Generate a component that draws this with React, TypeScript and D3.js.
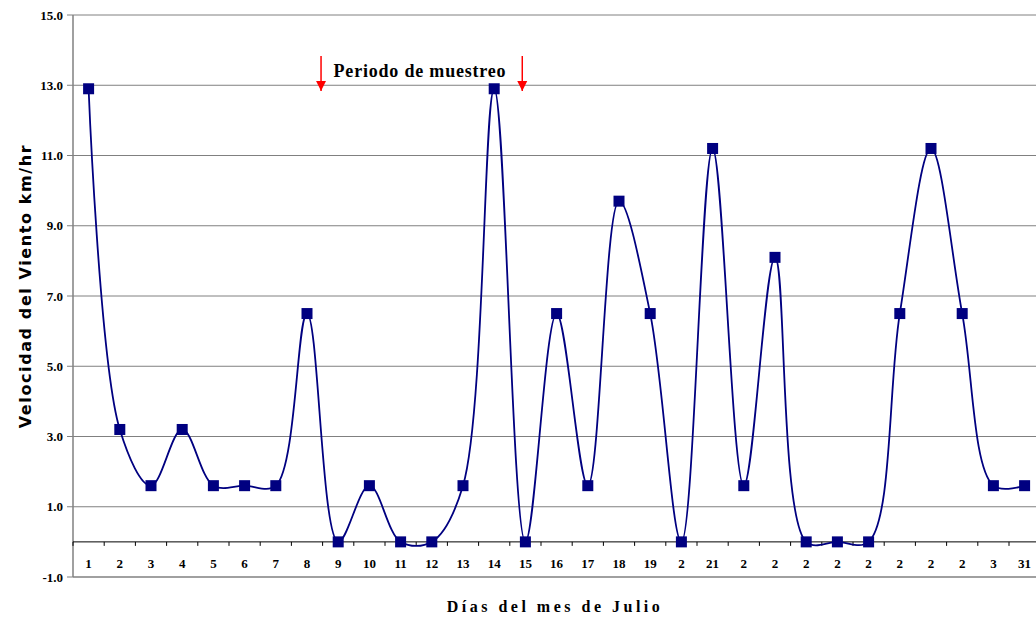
import React from "react";
import * as d3 from "d3";

// Daily wind speed, July (km/hr)
const days = Array.from({ length: 31 }, (_, i) => i + 1);
const dayLabels = [
  "1", "2", "3", "4", "5", "6", "7", "8", "9", "10",
  "11", "12", "13", "14", "15", "16", "17", "18", "19", "2",
  "21", "2", "2", "2", "2", "2", "2", "2", "2", "3", "31",
];
const windSpeed = [
  12.9, 3.2, 1.6, 3.2, 1.6, 1.6, 1.6, 6.5, 0, 1.6,
  0, 0, 1.6, 12.9, 0, 6.5, 1.6, 9.7, 6.5, 0,
  11.2, 1.6, 8.1, 0, 0, 0, 6.5, 11.2, 6.5, 1.6, 1.6,
];
const yTicks = [15, 13, 11, 9, 7, 5, 3, 1, -1];
const samplingStart = 8.45; // day position of first arrow
const samplingEnd = 14.9;

const W = 1036;
const H = 617;
const left = 73;
const top = 15;
const bottom = 577;
const bandW = 31.2;
const right = left + bandW * days.length;

export default function App() {
  const x = d3
    .scaleBand<number>()
    .domain(days)
    .range([left, right]);
  const xc = (d: number) => (x(d) as number) + x.bandwidth() / 2;
  const xLin = d3.scaleLinear().domain([1, 31]).range([xc(1), xc(31)]);
  const y = d3.scaleLinear().domain([-1, 15]).range([bottom, top]);

  const line = d3
    .line<number>()
    .x((_, i) => xc(days[i]))
    .y((v) => y(v))
    .curve(d3.curveCatmullRom.alpha(0.5));

  const serif = "'Liberation Serif', 'Times New Roman', serif";
  const navy = "#000080";
  const ms = 11;

  return (
    <svg
      width={W}
      height={H}
      style={{ position: "absolute", left: 0, top: 0, background: "#fff" }}
    >
      {/* horizontal gridlines */}
      {yTicks.map((t) => (
        <line
          key={"g" + t}
          x1={left}
          x2={right}
          y1={y(t)}
          y2={y(t)}
          stroke={t === -1 ? "#a0a0a0" : "#808080"}
          strokeWidth={t === -1 ? 2 : 1}
        />
      ))}
      {/* y axis */}
      <line x1={left} x2={left} y1={top} y2={bottom} stroke="#808080" strokeWidth={1.5} />
      {yTicks.map((t) => (
        <g key={"t" + t}>
          <line x1={left - 6} x2={left} y1={y(t)} y2={y(t)} stroke="#808080" />
          <text
            x={left - 10}
            y={y(t)}
            dy="0.35em"
            textAnchor="end"
            fontFamily={serif}
            fontWeight="bold"
            fontSize={13}
          >
            {t.toFixed(1)}
          </text>
        </g>
      ))}
      {/* category axis at zero */}
      <line x1={left} x2={right} y1={y(0)} y2={y(0)} stroke="#000" strokeWidth={1} />
      {days.map((d) => (
        <line
          key={"xt" + d}
          x1={x(d) as number}
          x2={x(d) as number}
          y1={y(0)}
          y2={y(0) + 4}
          stroke="#000"
        />
      ))}
      {days.map((d, i) => (
        <text
          key={"xl" + d}
          x={xc(d)}
          y={563}
          dy="0.35em"
          textAnchor="middle"
          fontFamily={serif}
          fontWeight="bold"
          fontSize={13}
        >
          {dayLabels[i]}
        </text>
      ))}
      {/* series */}
      <path d={line(windSpeed) || ""} fill="none" stroke={navy} strokeWidth={1.8} />
      {windSpeed.map((v, i) => (
        <rect
          key={"m" + i}
          x={xc(days[i]) - ms / 2}
          y={y(v) - ms / 2}
          width={ms}
          height={ms}
          fill={navy}
        />
      ))}
      {/* sampling period annotation */}
      <defs>
        <marker
          id="arrowRed"
          viewBox="0 0 10 10"
          refX={10}
          refY={5}
          markerWidth={7}
          markerHeight={7}
          orient="auto"
        >
          <path d="M0,0 L10,5 L0,10 z" fill="#ff0000" />
        </marker>
      </defs>
      {[samplingStart, samplingEnd].map((p) => (
        <line
          key={"a" + p}
          x1={xLin(p)}
          x2={xLin(p)}
          y1={56}
          y2={91}
          stroke="#ff0000"
          strokeWidth={1.5}
          markerEnd="url(#arrowRed)"
        />
      ))}
      <text
        x={420}
        y={77}
        textAnchor="middle"
        fontFamily={serif}
        fontWeight="bold"
        fontSize={18}
        letterSpacing={0.8}
      >
        Periodo de muestreo
      </text>
      {/* axis titles */}
      <text
        transform={`translate(25, ${(top + bottom) / 2 - 10}) rotate(-90)`}
        textAnchor="middle"
        dy="0.35em"
        fontFamily="'DejaVu Sans', Verdana, sans-serif"
        fontWeight="bold"
        fontSize={16}
        letterSpacing={1.6}
      >
        Velocidad del Viento km/hr
      </text>
      <text
        x={555}
        y={606}
        dy="0.35em"
        textAnchor="middle"
        fontFamily={serif}
        fontWeight="bold"
        fontSize={16}
        letterSpacing={3.5}
      >
        Días del mes de Julio
      </text>
    </svg>
  );
}
